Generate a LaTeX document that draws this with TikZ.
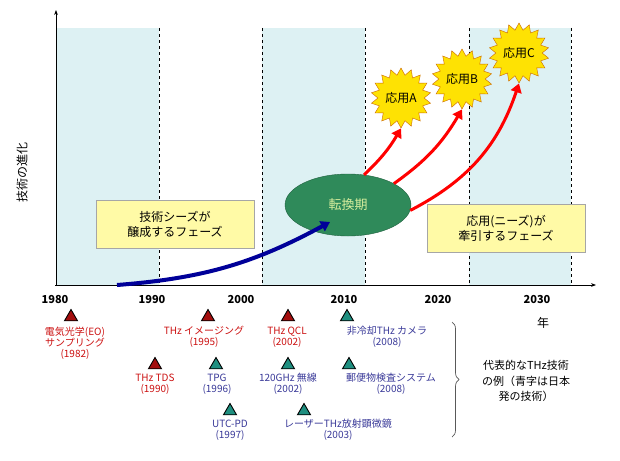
\documentclass[tikz,border=0pt]{standalone}
\usepackage{fontspec}
\setmainfont{Noto Sans CJK JP}
\usetikzlibrary{shapes.geometric,decorations.pathreplacing,arrows.meta}
\definecolor{band}{HTML}{DDF1F3}
\definecolor{tred}{HTML}{CC1111}
\definecolor{tblue}{HTML}{3A3A99}
\definecolor{tri}{HTML}{1F8F80}
\definecolor{ell}{HTML}{2F8A5A}
\tikzset{
 phase/.style={draw=gray!70, fill=yellow!35, minimum width=158pt, minimum height=48pt, align=center, font=\fontsize{12}{15}\selectfont},
 starb/.style={star, star points=18, star point ratio=1.3, minimum size=60pt, fill=yellow!85!orange, draw=orange!80!black, font=\fontsize{12}{13}\selectfont, inner sep=0pt},
 redarr/.style={red, line width=3pt, -{Triangle[length=9pt,width=11pt]}},
 lbl/.style={align=center, font=\fontsize{10}{11}\selectfont, inner sep=0pt},
 rtri/.style={regular polygon, regular polygon sides=3, fill=tred!80!black, draw=black, line width=0.9pt, minimum size=15pt, inner sep=0pt},
 btri/.style={rtri, fill=tri},
 yr/.style={font=\bfseries\fontsize{11}{13}\selectfont}
}
\begin{document}
\begin{tikzpicture}[x=1pt,y=-1pt]
\useasboundingbox (0,0) rectangle (620,460);
\fill[white] (0,0) rectangle (620,460);
\foreach \a/\b in {57/159,262/365,469/571} \fill[band] (\a,28) rectangle (\b,285);
\foreach \x in {159,262,365,469,571} \draw[dashed, line width=0.6pt] (\x,28) -- (\x,285);
\draw[-{Stealth[length=5pt]}, line width=0.8pt] (56,286) -- (56,10);
\draw[-{Stealth[length=5pt]}, line width=0.8pt] (55,285) -- (596,285);
\node[rotate=90, font=\fontsize{12}{14}\selectfont] (yl) at (22,172) {技術の進化};
\foreach \x/\t in {55/1980,152/1990,241/2000,344/2010,438/2020,537/2030} \node[yr] (y\t) at (\x,300) {\t};
\node[font=\fontsize{12}{14}\selectfont] (nen) at (543,323) {年};
\node[phase] (p1) at (175,224) {技術シーズが\\醸成するフェーズ};
\node[phase] (p2) at (506,228) {応用(ニーズ)が\\牽引するフェーズ};
\node[ellipse, fill=ell, draw=ell!70!black, minimum width=126pt, minimum height=62pt, text=yellow!60!green!40, font=\fontsize{13}{14}\selectfont] (e) at (348,205) {転換期};
\coordinate (bs) at (117,285);
\draw[line width=4pt, color=blue!50!black!80!blue, -{Triangle[length=9pt,width=11pt]}] (bs) to[bend right=12] (330,222);
\node[starb] (A) at (401,98) {応用A};
\node[starb] (B) at (462,79) {応用B};
\node[starb] (C) at (519,53) {応用C};
\draw[redarr] (e.62) to[bend right=8] (A.south);
\draw[redarr] (e.25) to[bend right=12] (B.south);
\draw[redarr] (e.-5) to[bend right=22] (C.south);
% triangles and labels
\node[rtri] (t1) at (71,317) {};
\node[lbl, text=tred] (l1) at (75,343) {電気光学(EO)\\サンプリング\\(1982)};
\node[rtri] (t2) at (208,317) {};
\node[lbl, text=tred] (l2) at (204,337) {THz イメージング\\(1995)};
\node[rtri] (t3) at (288,317) {};
\node[lbl, text=tred] (l3) at (287,337) {THz QCL\\(2002)};
\node[btri] (t4) at (347,317) {};
\node[lbl, text=tblue] (l4) at (387,337) {非冷却THz カメラ\\(2008)};
\node[rtri] (t5) at (155,365) {};
\node[lbl, text=tred] (l5) at (155,384) {THz TDS\\(1990)};
\node[btri] (t6) at (216,365) {};
\node[lbl, text=tblue] (l6) at (217,384) {TPG\\(1996)};
\node[btri] (t7) at (288,365) {};
\node[lbl, text=tblue] (l7) at (288,384) {120GHz 無線\\(2002)};
\node[btri] (t8) at (349,365) {};
\node[lbl, text=tblue] (l8) at (391,384) {郵便物検査システム\\(2008)};
\node[btri] (t9) at (230,411) {};
\node[lbl, text=tblue] (l9) at (230,430) {UTC-PD\\(1997)};
\node[btri] (t10) at (304,411) {};
\node[lbl, text=tblue] (l10) at (338,430) {レーザーTHz放射顕微鏡\\(2003)};
\coordinate (b1) at (452,322);
\coordinate (b2) at (452,437);
\draw[gray!70!black, decorate, decoration={brace, amplitude=7pt}, line width=0.7pt] (b1) -- (b2);
\node[align=center, font=\fontsize{11}{15.5}\selectfont] (rep) at (526,381) {代表的なTHz技術\\の例（青字は日本\\発の技術）};
\end{tikzpicture}
\end{document}
